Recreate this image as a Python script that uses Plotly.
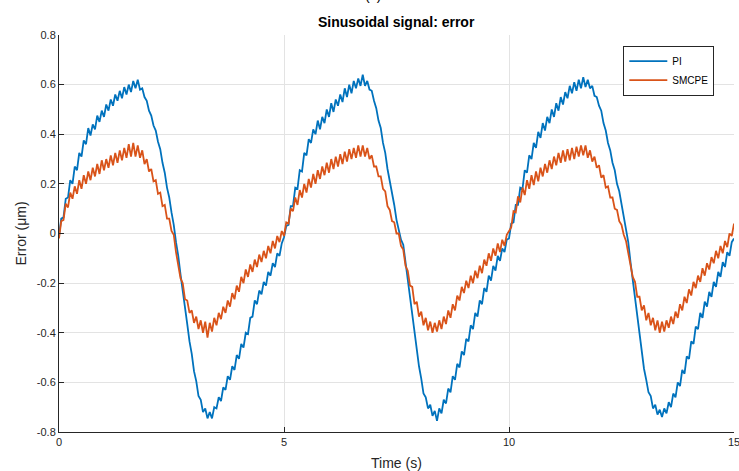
import numpy as np
import plotly.graph_objects as go

# sample times (s), 0.05 s spacing
time_s = np.linspace(0, 15, 301)

# PI error (um)
pi_err = [
    -0.01, 0.06, 0.065, 0.14, 0.145, 0.215, 0.20, 0.27, 0.255, 0.325,
    0.31, 0.375, 0.36, 0.425, 0.395, 0.44, 0.42, 0.475, 0.45, 0.495,
    0.47, 0.52, 0.495, 0.54, 0.515, 0.56, 0.535, 0.575, 0.545, 0.59,
    0.56, 0.60, 0.57, 0.615, 0.585, 0.62, 0.58, 0.585, 0.55, 0.535,
    0.495, 0.475, 0.435, 0.415, 0.37, 0.34, 0.285, 0.245, 0.185, 0.145,
    0.085, 0.035, -0.035, -0.09, -0.165, -0.225, -0.305, -0.365, -0.435, -0.485,
    -0.555, -0.595, -0.655, -0.67, -0.72, -0.705, -0.745, -0.72, -0.745, -0.70,
    -0.705, -0.66, -0.675, -0.62, -0.63, -0.575, -0.59, -0.535, -0.55, -0.49,
    -0.505, -0.445, -0.46, -0.40, -0.405, -0.34, -0.335, -0.27, -0.285, -0.23,
    -0.245, -0.195, -0.21, -0.155, -0.17, -0.12, -0.135, -0.08, -0.09, -0.04,
    # 5.00 - 9.95
    -0.015, 0.03, 0.035, 0.11, 0.11, 0.185, 0.18, 0.255, 0.25, 0.325,
    0.315, 0.38, 0.365, 0.42, 0.40, 0.455, 0.42, 0.47, 0.445, 0.50,
    0.47, 0.525, 0.49, 0.54, 0.515, 0.56, 0.53, 0.585, 0.55, 0.60,
    0.565, 0.615, 0.585, 0.625, 0.595, 0.64, 0.595, 0.615, 0.58, 0.575,
    0.535, 0.505, 0.455, 0.425, 0.365, 0.325, 0.26, 0.215, 0.155, 0.115,
    0.055, 0.02, -0.025, -0.045, -0.115, -0.175, -0.245, -0.315, -0.405, -0.455,
    -0.535, -0.585, -0.645, -0.66, -0.705, -0.69, -0.735, -0.715, -0.755, -0.705,
    -0.725, -0.67, -0.685, -0.625, -0.64, -0.575, -0.59, -0.525, -0.54, -0.475,
    -0.49, -0.425, -0.435, -0.37, -0.385, -0.32, -0.335, -0.27, -0.285, -0.22,
    -0.235, -0.17, -0.19, -0.13, -0.15, -0.09, -0.11, -0.06, -0.075, -0.025,
    # 10.00 - 15.00
    -0.02, 0.04, 0.045, 0.115, 0.115, 0.185, 0.18, 0.255, 0.245, 0.315,
    0.30, 0.365, 0.345, 0.41, 0.385, 0.445, 0.415, 0.47, 0.445, 0.50,
    0.47, 0.525, 0.495, 0.55, 0.52, 0.57, 0.545, 0.595, 0.565, 0.61,
    0.575, 0.62, 0.585, 0.63, 0.59, 0.62, 0.585, 0.595, 0.555, 0.55,
    0.515, 0.495, 0.445, 0.415, 0.365, 0.335, 0.285, 0.255, 0.20, 0.17,
    0.115, 0.07, 0.005, -0.035, -0.115, -0.185, -0.265, -0.325, -0.405, -0.46,
    -0.545, -0.59, -0.64, -0.655, -0.705, -0.69, -0.73, -0.71, -0.74, -0.705,
    -0.725, -0.68, -0.70, -0.645, -0.66, -0.60, -0.615, -0.55, -0.565, -0.495,
    -0.505, -0.435, -0.445, -0.375, -0.385, -0.32, -0.34, -0.275, -0.295, -0.235,
    -0.255, -0.195, -0.215, -0.155, -0.175, -0.115, -0.135, -0.075, -0.09, -0.035,
    -0.02,
]

# SMCPE error (um)
smcpe_err = [
    -0.02, 0.05, 0.055, 0.12, 0.105, 0.165, 0.14, 0.19, 0.16, 0.215,
    0.18, 0.235, 0.20, 0.25, 0.215, 0.265, 0.23, 0.28, 0.24, 0.295,
    0.255, 0.30, 0.265, 0.315, 0.275, 0.325, 0.285, 0.335, 0.295, 0.345,
    0.305, 0.36, 0.31, 0.365, 0.31, 0.355, 0.305, 0.335, 0.28, 0.30,
    0.25, 0.26, 0.21, 0.215, 0.16, 0.165, 0.11, 0.115, 0.06, 0.06,
    0.01, -0.005, -0.075, -0.12, -0.18, -0.20, -0.265, -0.27, -0.32, -0.31,
    -0.36, -0.335, -0.385, -0.35, -0.40, -0.355, -0.42, -0.36, -0.395, -0.34,
    -0.37, -0.32, -0.345, -0.295, -0.32, -0.27, -0.295, -0.24, -0.265, -0.21,
    -0.235, -0.175, -0.20, -0.145, -0.175, -0.125, -0.155, -0.105, -0.135, -0.085,
    -0.115, -0.07, -0.10, -0.05, -0.08, -0.03, -0.06, -0.01, -0.035, 0.01,
    # 5.00 - 9.95
    -0.01, 0.045, 0.04, 0.10, 0.09, 0.145, 0.115, 0.175, 0.145, 0.20,
    0.165, 0.22, 0.185, 0.24, 0.20, 0.255, 0.22, 0.27, 0.235, 0.285,
    0.245, 0.30, 0.26, 0.31, 0.27, 0.32, 0.28, 0.33, 0.29, 0.34,
    0.30, 0.345, 0.305, 0.355, 0.31, 0.355, 0.31, 0.345, 0.30, 0.315,
    0.27, 0.27, 0.23, 0.23, 0.18, 0.17, 0.11, 0.095, 0.05, 0.045,
    0.00, 0.00, -0.05, -0.065, -0.13, -0.15, -0.21, -0.215, -0.285, -0.275,
    -0.335, -0.315, -0.37, -0.34, -0.39, -0.355, -0.40, -0.36, -0.395, -0.35,
    -0.385, -0.335, -0.365, -0.31, -0.34, -0.285, -0.31, -0.25, -0.27, -0.215,
    -0.24, -0.19, -0.22, -0.17, -0.20, -0.15, -0.18, -0.13, -0.16, -0.105,
    -0.13, -0.08, -0.11, -0.06, -0.09, -0.04, -0.075, -0.025, -0.05, -0.005,
    # 10.00 - 15.00
    0.01, 0.025, 0.09, 0.085, 0.15, 0.125, 0.185, 0.155, 0.215, 0.18,
    0.235, 0.195, 0.25, 0.21, 0.265, 0.23, 0.28, 0.245, 0.295, 0.26,
    0.31, 0.275, 0.325, 0.285, 0.335, 0.29, 0.34, 0.295, 0.345, 0.30,
    0.35, 0.31, 0.355, 0.315, 0.355, 0.305, 0.335, 0.29, 0.31, 0.265,
    0.275, 0.225, 0.235, 0.185, 0.19, 0.145, 0.145, 0.10, 0.095, 0.05,
    0.035, -0.005, -0.03, -0.08, -0.115, -0.175, -0.195, -0.255, -0.255, -0.31,
    -0.29, -0.35, -0.32, -0.37, -0.34, -0.39, -0.35, -0.40, -0.355, -0.395,
    -0.35, -0.38, -0.335, -0.365, -0.315, -0.34, -0.285, -0.31, -0.255, -0.28,
    -0.225, -0.25, -0.195, -0.22, -0.17, -0.195, -0.14, -0.17, -0.12, -0.145,
    -0.095, -0.12, -0.07, -0.10, -0.05, -0.08, -0.03, -0.055, 0.00, -0.01,
    0.04,
]

x_ticks = [0, 5, 10, 15]
y_ticks = [-0.8, -0.6, -0.4, -0.2, 0, 0.2, 0.4, 0.6, 0.8]
y_tick_labels = ["-0.8", "-0.6", "-0.4", "-0.2", "0", "0.2", "0.4", "0.6", "0.8"]

FONT = "Liberation Sans, Arial, sans-serif"
TXT = "#262626"

fig = go.Figure()
fig.add_trace(go.Scatter(x=time_s, y=pi_err, mode="lines", name="PI",
                         line=dict(color="#0072BD", width=1.8)))
fig.add_trace(go.Scatter(x=time_s, y=smcpe_err, mode="lines", name="SMCPE",
                         line=dict(color="#D95319", width=1.8)))

fig.update_layout(
    width=739, height=471,
    margin=dict(l=59, r=5, t=35, b=39, autoexpand=False),
    paper_bgcolor="white", plot_bgcolor="white",
    font=dict(family=FONT, size=11, color=TXT),
    showlegend=True,
    legend=dict(x=0.836, y=0.973, xanchor="left", yanchor="top",
                bgcolor="white", bordercolor="#262626", borderwidth=1,
                font=dict(family=FONT, size=10, color="black"),
                tracegroupgap=0, itemwidth=38),
    xaxis=dict(range=[0, 15], tickvals=x_ticks, ticks="inside", ticklen=5,
               tickcolor=TXT, showline=True, linecolor=TXT, linewidth=1,
               showgrid=True, gridcolor="#e3e3e3", gridwidth=1, zeroline=False,
               ticklabeloverflow="allow", automargin=False,
               tickfont=dict(size=11, color=TXT)),
    yaxis=dict(range=[-0.8, 0.8], tickvals=y_ticks, ticktext=y_tick_labels,
               ticks="inside", ticklen=5, tickcolor=TXT, automargin=False,
               showline=True, linecolor=TXT, linewidth=1,
               showgrid=True, gridcolor="#e3e3e3", gridwidth=1, zeroline=False,
               tickfont=dict(size=11, color=TXT)),
    annotations=[
        dict(text="<b>Sinusoidal signal: error</b>", xref="paper", yref="paper",
             x=0.5, y=1, yshift=13, xanchor="center", yanchor="middle",
             showarrow=False, font=dict(size=14, color="black", family=FONT)),
        dict(text="(c)", xref="paper", yref="paper", x=0.465, y=1, yshift=30,
             xanchor="center", yanchor="bottom", showarrow=False,
             font=dict(size=14, color="black", family=FONT)),
        dict(text="Time (s)", xref="paper", yref="paper", x=0.5, y=0, yshift=-31,
             xanchor="center", yanchor="middle", showarrow=False,
             font=dict(size=14, color=TXT, family=FONT)),
        dict(text="Error (μm)", xref="paper", yref="paper", x=0, xshift=-39, y=0.5,
             xanchor="center", yanchor="middle", textangle=-90, showarrow=False,
             font=dict(size=14, color=TXT, family=FONT)),
    ],
)

fig.write_html("out.html", config={"displayModeBar": False},
               post_script="document.body.style.margin='0';document.body.style.overflow='hidden';")
